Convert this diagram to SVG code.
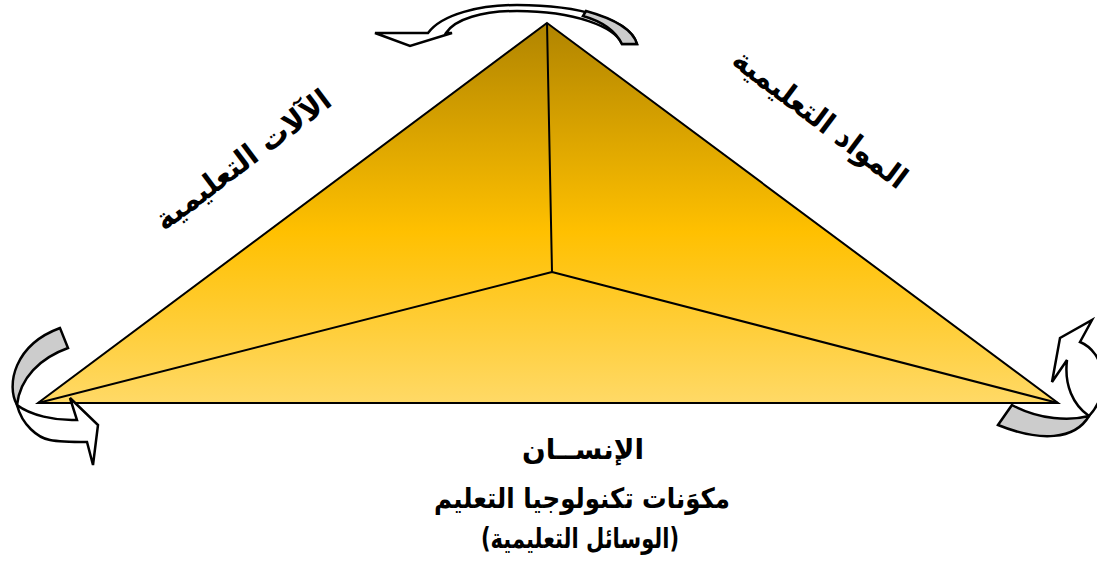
<svg xmlns="http://www.w3.org/2000/svg" width="1097" height="561" viewBox="0 0 1097 561">
<style>
.edge{fill:none;stroke:#000;stroke-width:2;stroke-linejoin:round}
.face{fill:url(#gold);stroke:#000;stroke-width:2;stroke-linejoin:miter}
.arw{fill:#fff;stroke:#000;stroke-width:2.5;stroke-linejoin:miter}
.arg{fill:#cccccc;stroke:#000;stroke-width:2.5;stroke-linejoin:miter}
.lbl{font-family:"DejaVu Sans",sans-serif;font-weight:bold;fill:#000}
</style>
<defs>
<linearGradient id="gold" gradientUnits="userSpaceOnUse" x1="0" y1="22" x2="0" y2="403">
<stop offset="0" stop-color="#B08400"/>
<stop offset="0.55" stop-color="#FFC000"/>
<stop offset="1" stop-color="#FFD966"/>
</linearGradient>
</defs>
<rect width="1097" height="561" fill="#fff"/>
<g id="pyramid">
<path class="face" d="M547,23 L1058,403 L38,403 Z"/>
<path class="edge" d="M547,23 L552,272 M38,403 L552,272 L1058,403"/>
</g>
<g id="connectors">
<g id="arrow-top">
<path class="arw" d="M375,33 L428,33 C442,14 480,5 517,5 C580,5 630,20 637,44 L622,44 C615,27 575,11 517,11 C482,11 455,19 446,33 L452,33 L410,46 Z"/>
<path class="arg" d="M586,11 C615,19 633,30 637,44 L622,44 C616,32 604,22 583,16 Z"/>
</g>
<g id="arrow-left">
<path class="arw" d="M17,405 C22,425 38,438 50,440 C60,442 75,442 87,442 L93,465 L98,425 L70,398 L77,420 C55,421 30,415 17,405 Z"/>
<path class="arg" d="M17,405 C6,385 14,345 60,328 L68,348 C40,358 20,378 17,405 Z"/>
</g>
<g id="arrow-right">
<path class="arw" d="M1089,416 C1073,405 1064,385 1067,360 L1052,382 L1060,338 L1092,320 L1080,342 C1105,352 1112,392 1089,416 Z"/>
<path class="arg" d="M1089,416 C1075,440 1040,442 998,425 L1012,405 C1040,420 1070,421 1089,416 Z"/>
</g>
</g>
<g id="label-left">
<text class="lbl" font-size="30" text-anchor="middle" direction="rtl" transform="translate(249,168) rotate(-37)" textLength="212" lengthAdjust="spacingAndGlyphs">الآلات التعليمية</text>
</g>
<g id="label-right">
<text class="lbl" font-size="30" text-anchor="middle" direction="rtl" transform="translate(814,127) rotate(37)" textLength="210" lengthAdjust="spacingAndGlyphs">المواد التعليمية</text>
</g>
<g id="label-bottom">
<text class="lbl" font-size="28" text-anchor="middle" direction="rtl" x="583" y="459" textLength="122" lengthAdjust="spacingAndGlyphs">الإنســان</text>
<text class="lbl" font-size="28" text-anchor="middle" direction="rtl" x="582" y="508" textLength="296" lengthAdjust="spacingAndGlyphs">مكوَنات تكنولوجيا التعليم</text>
<text class="lbl" font-size="28" text-anchor="middle" direction="rtl" x="580" y="548" textLength="198" lengthAdjust="spacingAndGlyphs">(الوسائل التعليمية)</text>
</g>
</svg>
